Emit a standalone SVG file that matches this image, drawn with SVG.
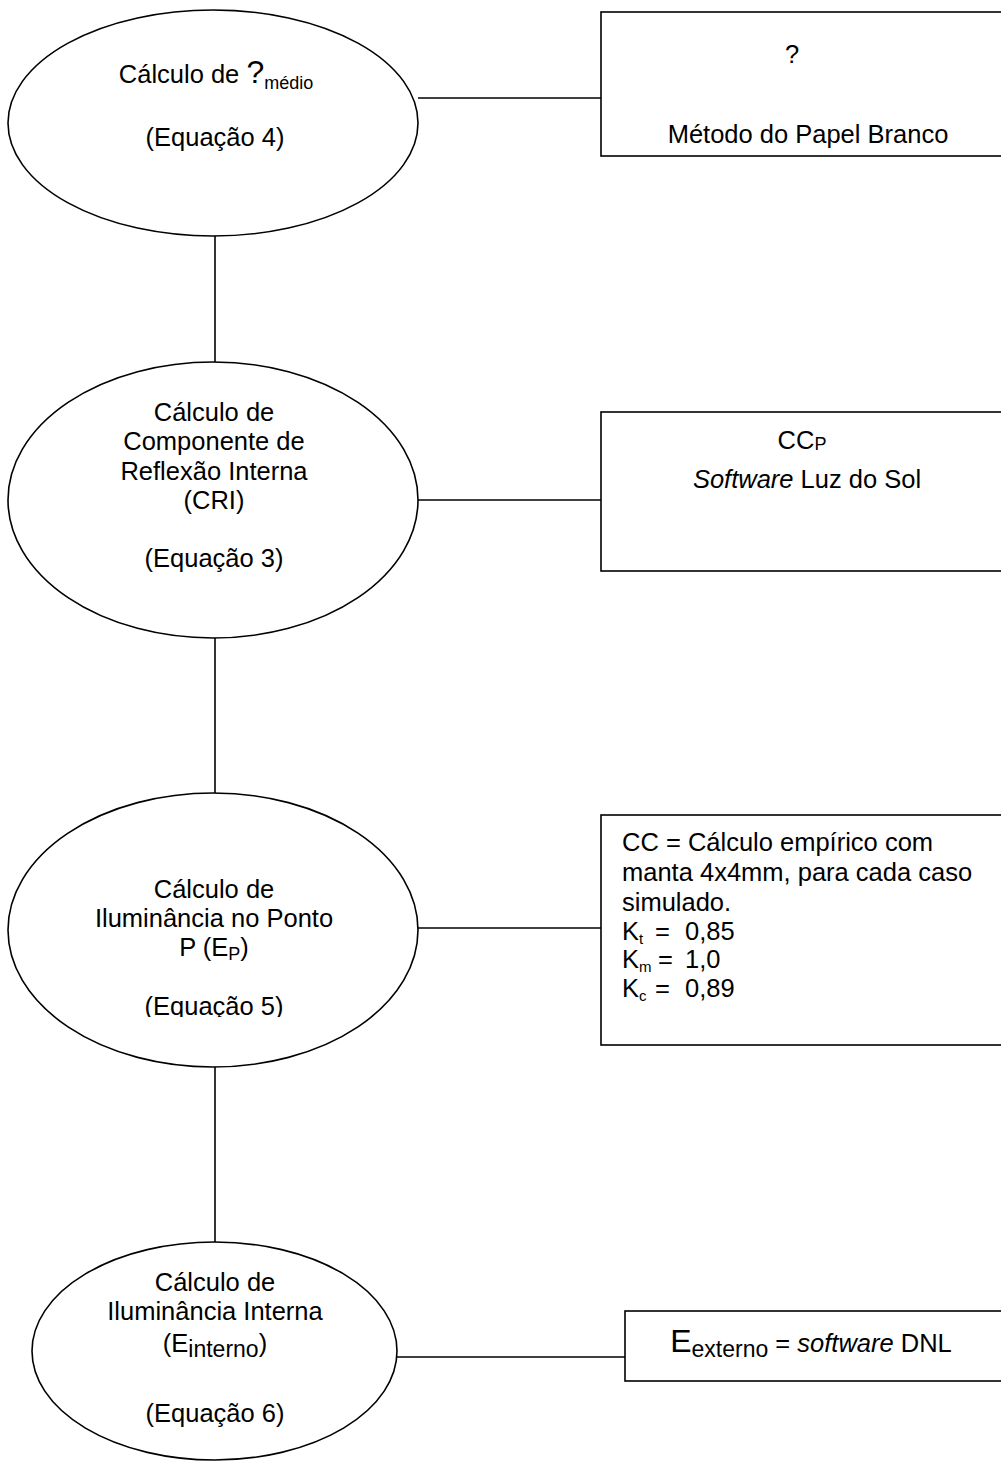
<svg xmlns="http://www.w3.org/2000/svg" width="1001" height="1461" viewBox="0 0 1001 1461">
<style>
.shape{fill:#ffffff;stroke:#000000;stroke-width:1.6}
.conn{stroke:#000000;stroke-width:1.6;fill:none}
text{font-family:"Liberation Sans",Arial,sans-serif;font-size:25.5px;fill:#000000}
.c{text-anchor:middle}
.sub{font-size:18px}
.it{font-style:italic}
</style>
<defs>
<clipPath id="clip5"><rect x="0" y="780" width="450" height="237"/></clipPath>
</defs>
<rect width="1001" height="1461" fill="#ffffff"/>
<g id="connectors">
<line class="conn" x1="215" y1="236" x2="215" y2="362"/>
<line class="conn" x1="215" y1="638" x2="215" y2="793"/>
<line class="conn" x1="215" y1="1040" x2="215" y2="1243"/>
<line class="conn" x1="418" y1="98" x2="601" y2="98"/>
<line class="conn" x1="418" y1="500" x2="601" y2="500"/>
<line class="conn" x1="418" y1="928" x2="601" y2="928"/>
<line class="conn" x1="397" y1="1357" x2="625" y2="1357"/>
</g>
<g id="node-media">
<ellipse class="shape" cx="213" cy="123" rx="205" ry="113"/>
<text class="c" x="216" y="83">Cálculo de <tspan font-size="32">?</tspan><tspan class="sub" font-size="20" dy="6">médio</tspan></text>
<text class="c" x="215" y="146">(Equação 4)</text>
</g>
<g id="node-papel">
<rect class="shape" x="601" y="12" width="420" height="144"/>
<text class="c" x="792" y="63" font-size="33">?</text>
<text class="c" x="808" y="143">Método do Papel Branco</text>
</g>
<g id="node-cri">
<ellipse class="shape" cx="213" cy="500" rx="205" ry="138"/>
<text class="c" x="214" y="421">Cálculo de</text>
<text class="c" x="214" y="450">Componente de</text>
<text class="c" x="214" y="480">Reflexão Interna</text>
<text class="c" x="214" y="509">(CRI)</text>
<text class="c" x="214" y="567">(Equação 3)</text>
</g>
<g id="node-ccp">
<rect class="shape" x="601" y="412" width="420" height="159"/>
<text class="c" x="802" y="449" font-size="29">CC<tspan font-size="18" dy="1">P</tspan></text>
<text class="c" x="807" y="488"><tspan class="it">Software</tspan> Luz do Sol</text>
</g>
<g id="node-ep">
<ellipse class="shape" cx="213" cy="930" rx="205" ry="137"/>
<text class="c" x="214" y="898">Cálculo de</text>
<text class="c" x="214" y="927">Iluminância no Ponto</text>
<text class="c" x="214" y="956">P (E<tspan class="sub" dy="4">P</tspan><tspan dy="-4">)</tspan></text>
<text class="c" x="214" y="1015" clip-path="url(#clip5)">(Equação 5)</text>
</g>
<g id="node-cc">
<rect class="shape" x="601" y="815" width="420" height="230"/>
<text x="622" y="851">CC = Cálculo empírico com</text>
<text x="622" y="881">manta 4x4mm, para cada caso</text>
<text x="622" y="911">simulado.</text>
<text x="622" y="940">K<tspan font-size="15" dy="4">t</tspan></text>
<text x="655" y="940">=</text>
<text x="685" y="940">0,85</text>
<text x="622" y="968">K<tspan font-size="15" dy="4">m</tspan></text>
<text x="658" y="968">=</text>
<text x="685" y="968">1,0</text>
<text x="622" y="997">K<tspan font-size="15" dy="4">c</tspan></text>
<text x="655" y="997">=</text>
<text x="685" y="997">0,89</text>
</g>
<g id="node-interna">
<ellipse class="shape" cx="214.5" cy="1351" rx="182.5" ry="109"/>
<text class="c" x="215" y="1291">Cálculo de</text>
<text class="c" x="215" y="1320">Iluminância Interna</text>
<text class="c" x="215" y="1352" font-size="36">(E<tspan font-size="23" dy="5">interno</tspan><tspan dy="-5">)</tspan></text>
<text class="c" x="215" y="1422">(Equação 6)</text>
</g>
<g id="node-externo">
<rect class="shape" x="625" y="1311" width="400" height="70"/>
<text class="c" x="811" y="1352"><tspan font-size="32">E</tspan><tspan font-size="23" dy="5">externo</tspan><tspan dy="-5"> = </tspan><tspan class="it">software</tspan> DNL</text>
</g>
</svg>
